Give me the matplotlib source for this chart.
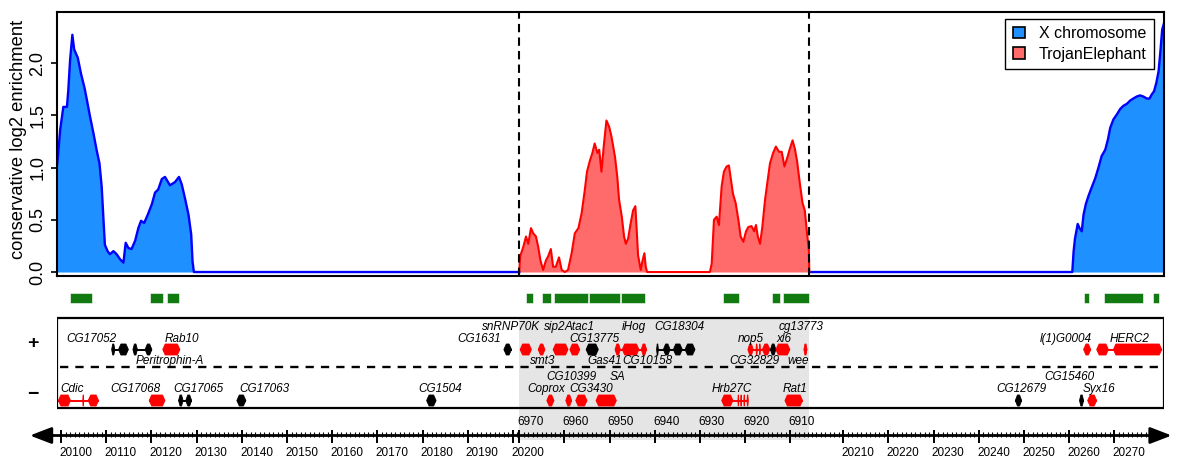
import numpy as np
import matplotlib
matplotlib.use('Agg')
import matplotlib.pyplot as plt
from matplotlib.patches import Rectangle, Polygon, Patch

plt.rcParams['font.family'] = ['Liberation Sans', 'DejaVu Sans']

# ---- genomic pieces: left X piece | TrojanElephant insert (reversed) | right X piece (kb)
X_LEFT = (20099.1, 20201.4)
TE_SPAN = (6970.0, 6905.8)
X_RIGHT = (20202.5, 20281.0)

# ---- enrichment, X chromosome left piece
xl_pos = [20099.1, 20099.3, 20099.8, 20100.5, 20101.3, 20101.6, 20102.0, 20102.5, 20102.9, 20103.7,
          20104.4, 20105.2, 20105.7, 20106.4, 20107.2, 20107.9, 20108.5, 20109.0, 20109.4, 20109.7,
          20110.3, 20110.8, 20111.6, 20112.3, 20113.1, 20113.8, 20114.3, 20114.9, 20115.6, 20116.4,
          20117.1, 20117.7, 20118.4, 20119.2, 20120.1, 20120.8, 20121.5, 20122.3, 20123.0, 20124.1,
          20125.2, 20126.1, 20126.7, 20127.4, 20128.2, 20128.8, 20129.1, 20129.4, 20201.4]
xl_val = [1.02, 1.10, 1.36, 1.58, 1.58, 1.74, 2.03, 2.27, 2.13, 2.05,
          1.90, 1.76, 1.65, 1.49, 1.32, 1.16, 1.04, 0.81, 0.49, 0.26,
          0.20, 0.17, 0.20, 0.17, 0.12, 0.09, 0.28, 0.23, 0.22, 0.30,
          0.42, 0.49, 0.47, 0.55, 0.65, 0.76, 0.79, 0.89, 0.91, 0.83,
          0.86, 0.91, 0.84, 0.71, 0.55, 0.36, 0.10, 0.0, 0.0]

# ---- enrichment, TrojanElephant (insert coordinates)
te_pos = [6970.0, 6969.8, 6969.1, 6968.5, 6968.0, 6967.4, 6966.9, 6966.3, 6965.8, 6965.3,
          6964.7, 6964.1, 6963.6, 6963.0, 6962.5, 6961.9, 6961.2, 6960.6, 6959.9, 6959.2,
          6958.4, 6957.7, 6956.9, 6956.2, 6955.5, 6955.0, 6954.4, 6953.8, 6953.3, 6952.7,
          6952.3, 6951.8, 6951.3, 6950.7, 6950.1, 6949.6, 6948.8, 6948.3, 6947.9, 6947.3,
          6946.8, 6946.4, 6945.9, 6945.4, 6944.8, 6944.3, 6944.0, 6943.7, 6943.1, 6942.7,
          6942.3, 6942.0, 6941.7,
          6927.8, 6927.4, 6926.9, 6926.3, 6925.8, 6925.2, 6924.7, 6924.1, 6923.6, 6923.2,
          6922.7, 6922.1, 6921.5, 6921.0, 6920.4, 6919.8, 6919.3, 6918.6, 6918.0, 6917.6,
          6917.2, 6916.7, 6916.2, 6915.6, 6915.1, 6914.5, 6913.8, 6913.2, 6912.5, 6911.9,
          6911.3, 6910.7, 6910.1, 6909.5, 6909.0, 6908.5, 6907.9, 6907.3, 6906.8, 6906.3,
          6905.9, 6905.8]
te_val = [0.0, 0.15, 0.24, 0.34, 0.27, 0.42, 0.37, 0.34, 0.24, 0.11,
          0.02, 0.11, 0.15, 0.22, 0.05, 0.05, 0.14, 0.02, 0.0, 0.02,
          0.18, 0.37, 0.42, 0.56, 0.78, 0.96, 1.06, 1.14, 1.23, 1.14,
          1.17, 0.96, 1.20, 1.45, 1.39, 1.30, 1.10, 0.91, 0.69, 0.53,
          0.34, 0.27, 0.32, 0.45, 0.59, 0.63, 0.40, 0.16, 0.02, 0.11,
          0.18, 0.05, 0.0,
          0.0, 0.08, 0.50, 0.53, 0.45, 0.82, 0.96, 1.01, 1.02, 0.90,
          0.75, 0.66, 0.50, 0.34, 0.29, 0.39, 0.43, 0.44, 0.39, 0.45,
          0.34, 0.27, 0.43, 0.69, 0.85, 1.04, 1.14, 1.20, 1.15, 1.15,
          1.01, 1.09, 1.18, 1.26, 1.18, 1.06, 0.85, 0.66, 0.59, 0.37,
          0.21, 0.0]

# ---- enrichment, X chromosome right piece
xr_pos = [20202.5, 20260.7, 20261.0, 20261.3, 20261.9, 20262.3, 20262.8, 20263.2, 20263.7, 20264.3,
          20265.0, 20265.8, 20266.5, 20267.2, 20268.0, 20268.6, 20269.1, 20269.8, 20270.6, 20271.3,
          20272.0, 20272.8, 20273.5, 20274.2, 20275.0, 20275.7, 20276.4, 20277.2, 20277.8, 20278.3,
          20278.8, 20279.3, 20279.8, 20280.2, 20280.6, 20281.0]
xr_val = [0.0, 0.0, 0.20, 0.32, 0.46, 0.42, 0.39, 0.55, 0.65, 0.73,
          0.81, 0.90, 1.00, 1.11, 1.17, 1.27, 1.38, 1.46, 1.51, 1.56,
          1.59, 1.61, 1.64, 1.66, 1.68, 1.69, 1.68, 1.66, 1.66, 1.70,
          1.73, 1.81, 1.92, 2.11, 2.32, 2.38]

# ---- enriched regions (green bars)
green_seg = ['L', 'L', 'L', 'T', 'T', 'T', 'T', 'T', 'T', 'T', 'T', 'R', 'R', 'R']
green_start = [20102.0, 20119.7, 20123.4, 6968.4, 6965.0, 6962.3, 6954.6, 6947.5, 6925.0, 6914.0, 6911.6,
               20263.3, 20267.7, 20278.5]
green_end = [20106.8, 20122.5, 20126.0, 6966.9, 6963.0, 6954.7, 6947.7, 6942.2, 6921.3, 6912.3, 6905.8,
             20264.5, 20276.3, 20279.8]

# ---- genes
gene_name = ['CG17052', 'Peritrophin-A', 'Rab10', 'Cdic', 'CG17068', 'CG17065', 'CG17063', 'CG1504', 'CG1631',
             'snRNP70K', 'smt3', 'sip2', 'Atac1', 'CG13775', 'iHog', 'CG18304', 'nop5', 'CG32829', 'xl6', 'wee',
             'Coprox', 'CG10399', 'CG3430', 'SA', 'Hrb27C', 'Rat1',
             'l(1)G0004', 'HERC2', 'CG12679', 'CG15460', 'Syx16']
gene_seg = ['L'] * 9 + ['T'] * 17 + ['R'] * 5
gene_start = [20111.2, 20115.9, 20122.5, 20099.4, 20119.5, 20126.0, 20138.9, 20180.9, 20198.0,
              6969.8, 6965.8, 6962.5, 6958.8, 6955.2, 6948.8, 6939.6, 6919.4, 6914.4, 6913.2, 6907.0,
              6963.9, 6959.7, 6957.5, 6953.0, 6925.2, 6911.2,
              20263.2, 20266.1, 20248.1, 20262.3, 20264.1]
gene_end = [20114.9, 20120.1, 20126.3, 20108.3, 20123.0, 20128.9, 20140.9, 20183.0, 20199.7,
            6967.3, 6964.3, 6959.2, 6956.6, 6952.5, 6941.8, 6931.1, 6914.5, 6913.2, 6910.1, 6906.3,
            6962.3, 6958.4, 6955.0, 6948.5, 6919.3, 6907.3,
            20264.8, 20280.5, 20249.5, 20263.2, 20266.1]
gene_strand = ['+', '+', '+', '-', '-', '-', '-', '-', '+',
               '+', '+', '+', '+', '+', '+', '+', '+', '+', '+', '+',
               '-', '-', '-', '-', '-', '-',
               '+', '+', '-', '-', '-']
gene_colour = ['k', 'k', 'r', 'r', 'r', 'k', 'k', 'k', 'k',
               'r', 'r', 'r', 'r', 'k', 'r', 'k', 'r', 'k', 'r', 'r',
               'r', 'r', 'r', 'r', 'r', 'r',
               'r', 'r', 'k', 'k', 'r']
gene_exons = {
    'CG17052': [(20111.2, 20111.9), (20112.7, 20114.9)],
    'Peritrophin-A': [(20115.9, 20116.9), (20118.6, 20120.1)],
    'Cdic': [(20099.4, 20102.1), (20104.8, 20105.0), (20106.0, 20108.3)],
    'CG17065': [(20126.0, 20127.0), (20127.6, 20128.9)],
    'iHog': [(6948.8, 6947.6), (6947.2, 6943.5), (6943.0, 6941.8)],
    'CG18304': [(6939.6, 6939.2), (6938.1, 6936.6), (6935.9, 6933.9), (6933.3, 6931.1)],
    'nop5': [(6919.4, 6918.2), (6917.6, 6917.3), (6916.9, 6916.6), (6916.2, 6914.5)],
    'Hrb27C': [(6925.2, 6922.7), (6921.6, 6921.4), (6921.0, 6920.8), (6920.3, 6920.1), (6919.6, 6919.3)],
    'HERC2': [(20266.1, 20268.7), (20269.8, 20280.5)],
}

# gene labels (text, left x in track units, row)
label_text = ['CG17052', 'Peritrophin-A', 'Rab10', 'Cdic', 'CG17068', 'CG17065', 'CG17063', 'CG1504', 'CG1631',
              'snRNP70K', 'sip2', 'Atac1', 'CG13775', 'iHog', 'CG18304', 'nop5', 'xl6', 'cg13773',
              'smt3', 'Gas41', 'CG10158', 'CG32829', 'wee',
              'CG10399', 'SA', 'Coprox', 'CG3430', 'Hrb27C', 'Rat1',
              'l(1)G0004', 'HERC2', 'CG15460', 'CG12679', 'Syx16']
label_x = [2.1, 17.3, 23.9, 0.7, 11.7, 25.7, 40.3, 79.9, 88.5,
           94.0, 107.7, 112.4, 113.5, 125.0, 132.3, 150.7, 159.2, 159.7,
           104.6, 117.5, 125.2, 148.9, 161.7,
           108.4, 122.3, 104.2, 113.5, 144.9, 160.6,
           217.6, 233.0, 218.6, 207.9, 227.0]
label_row = ['plo', 'pbel', 'plo', 'mlo', 'mlo', 'mlo', 'mlo', 'mlo', 'plo',
             'phi', 'phi', 'phi', 'plo', 'phi', 'phi', 'plo', 'plo', 'phi',
             'pbel', 'pbel', 'pbel', 'pbel', 'pbel',
             'mhi', 'mhi', 'mlo', 'mlo', 'mlo', 'mlo',
             'plo', 'plo', 'mhi', 'mlo', 'mlo']

X_COL = '#1E90FF'
TE_COL = '#FF6A6A'
GREEN = '#117A11'


def to_plot(v, seg):
    v = np.asarray(v, dtype=float)
    w1 = X_LEFT[1] - X_LEFT[0]
    w2 = TE_SPAN[0] - TE_SPAN[1]
    if seg == 'L':
        return v - X_LEFT[0]
    if seg == 'T':
        return w1 + (TE_SPAN[0] - v)
    return w1 + w2 + (v - X_RIGHT[0])


XMAX = float(to_plot(X_RIGHT[1], 'R'))
B1 = float(to_plot(X_LEFT[1], 'L'))
B2 = float(to_plot(TE_SPAN[1], 'T'))

W, H = 1177.0, 457.0
fig = plt.figure(figsize=(W / 100, H / 100), dpi=100)

# ------------------------------------------------------------------ top panel
ax = fig.add_axes([57 / W, 1 - 276 / H, 1107 / W, 264 / H])
px = to_plot(xl_pos, 'L')
ax.fill_between(px, 0, xl_val, color=X_COL, lw=0)
ax.plot(px, xl_val, color='blue', lw=1.7)
px = to_plot(xr_pos, 'R')
ax.fill_between(px, 0, xr_val, color=X_COL, lw=0)
ax.plot(px, xr_val, color='blue', lw=1.7)
px = to_plot(te_pos, 'T')
ax.fill_between(px, 0, te_val, color=TE_COL, lw=0)
ax.plot(px, te_val, color='red', lw=1.5)

for b in (B1, B2):
    ax.axvline(b, color='black', ls=(0, (4, 2.5)), lw=1.5)

ax.set_xlim(0, XMAX)
ax.set_ylim(-0.038, 2.488)
ax.set_xticks([])
ax.set_yticks([0, 0.5, 1.0, 1.5, 2.0])
ax.set_yticklabels(['0.0', '0.5', '1.0', '1.5', '2.0'], rotation=90, va='center', fontsize=13)
ax.tick_params(axis='y', length=4.3, width=1.2, pad=3.5)
for s in ax.spines.values():
    s.set_linewidth(1.5)
fig.text(19 / W, 1 - 139 / H, 'conservative log2 enrichment', rotation=90,
         ha='center', va='center', fontsize=13.2)

handles = [Patch(facecolor=X_COL, edgecolor='black', lw=1.2, label='X chromosome'),
           Patch(facecolor=TE_COL, edgecolor='black', lw=1.2, label='TrojanElephant')]
leg = ax.legend(handles=handles, loc='upper right',
                bbox_to_anchor=((1154 - 57) / 1107, (276 - 19) / 264), borderaxespad=0,
                fancybox=False, edgecolor='black', framealpha=1, fontsize=11.5,
                handlelength=0.75, handleheight=0.75, handletextpad=0.9,
                borderpad=0.45, labelspacing=0.35)
leg.get_frame().set_linewidth(1.0)

# ------------------------------------------------------------------ bottom tracks (y in pixel rows)
axb = fig.add_axes([57 / W, 0, 1107 / W, 170 / H])
axb.set_xlim(0, XMAX)
axb.set_ylim(457, 287)
axb.axis('off')

# shaded insert
axb.add_patch(Rectangle((B1, 318), B2 - B1, 122, fc='#E5E5E5', ec='none', zorder=0))

# green bars
for sg, s0, s1 in zip(green_seg, green_start, green_end):
    a, b = sorted([float(to_plot(s0, sg)), float(to_plot(s1, sg))])
    axb.add_patch(Rectangle((a, 292.7), b - a, 10.6, fc=GREEN, ec='white', lw=0.4))

# gene box
axb.add_patch(Rectangle((0, 318), XMAX, 90, fill=False, ec='black', lw=1.6, zorder=6))
axb.plot([0.7, XMAX - 1], [367.3, 367.3], color='black', lw=1.7, ls=(0, (3.5, 3)), zorder=1)
axb.text(-5.3, 343.5, '+', fontsize=14, fontweight='bold', ha='center', va='center')
axb.text(-5.3, 394, '\u2212', fontsize=14, fontweight='bold', ha='center', va='center')


def hexagon(a, b, yc, colour, hh=5.5):
    d = min(0.55, (b - a) / 3)
    pts = [(a, yc), (a + d, yc - hh), (b - d, yc - hh), (b, yc), (b - d, yc + hh), (a + d, yc + hh)]
    axb.add_patch(Polygon(pts, closed=True, fc=colour, ec=colour, lw=0.6, zorder=3))


for i, name in enumerate(gene_name):
    sg = gene_seg[i]
    col = 'red' if gene_colour[i] == 'r' else 'black'
    yc = 349.5 if gene_strand[i] == '+' else 400.5
    a, b = sorted([float(to_plot(gene_start[i], sg)), float(to_plot(gene_end[i], sg))])
    axb.plot([a, b], [yc, yc], color=col, lw=1.4, zorder=2, solid_capstyle='butt')
    if name in gene_exons:
        for e0, e1 in gene_exons[name]:
            ea, eb = sorted([float(to_plot(e0, sg)), float(to_plot(e1, sg))])
            hexagon(ea, eb, yc, col)
    else:
        hexagon(a, b, yc, col)

row_y = {'phi': 326.7, 'plo': 338.7, 'pbel': 361.0, 'mhi': 376.5, 'mlo': 388.7}
for t, x, r in zip(label_text, label_x, label_row):
    axb.text(x, row_y[r], t, fontsize=8.5, style='italic', ha='left', va='center', zorder=4)

# ------------------------------------------------------------------ coordinate axis
axis_y = 435.5
axb.annotate('', xy=(246.7, axis_y), xytext=(-6.0, axis_y), annotation_clip=False,
             arrowprops=dict(arrowstyle='<|-|>,head_length=0.65,head_width=0.25',
                             lw=2, color='black', mutation_scale=20, shrinkA=0, shrinkB=0))

maj_L = list(range(20100, 20201, 10))
maj_R = list(range(20210, 20271, 10))
maj_T = list(range(6970, 6909, -10))
min_L = [v for v in range(20100, 20202) if v % 10]
min_R = [v for v in range(20203, 20281) if v % 10]
min_T = [v for v in range(6969, 6905, -1) if v % 10]

minor_x = np.concatenate([to_plot(min_L, 'L'), to_plot(min_R, 'R'), to_plot(min_T, 'T')])
axb.vlines(minor_x, 431.5, 436.5, color='black', lw=0.8)
major_x = np.concatenate([to_plot(maj_L, 'L'), to_plot(maj_R, 'R'), to_plot(maj_T, 'T')])
axb.vlines(major_x, 429.5, 443.0, color='black', lw=1.4)

for v in maj_L:
    axb.text(float(to_plot(v, 'L')) - 0.4, 452.5, str(v), fontsize=8.5, ha='left', va='center')
for v in maj_R:
    axb.text(float(to_plot(v, 'R')) - 0.4, 452.5, str(v), fontsize=8.5, ha='left', va='center')
for v in maj_T:
    axb.text(float(to_plot(v, 'T')) - 0.4, 421.5, str(v), fontsize=8.5, ha='left', va='center')

fig.savefig('out.png', dpi=100)
